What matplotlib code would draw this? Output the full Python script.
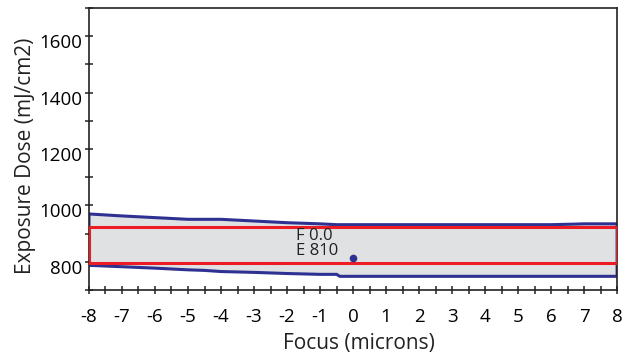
import matplotlib.pyplot as plt
import matplotlib.transforms as mtransforms
from matplotlib.patches import Rectangle
from matplotlib.ticker import MultipleLocator

plt.rcParams['font.family'] = ['Open Sans', 'DejaVu Sans']
plt.rcParams['axes.unicode_minus'] = False

# process window outline (upper / lower edge)
upper_x = [-8, -7, -6, -5, -4, -3, -2, -1, -0.5, 0, 2, 4, 6, 6.7, 7, 8]
upper_y = [970, 963, 957, 951, 951, 945, 939, 935, 932, 932, 932, 932, 932, 934, 935, 935]
lower_x = [-8, -7, -6, -5, -4.5, -4, -3, -2, -1, -0.5, -0.4, 2, 4, 6, 8]
lower_y = [788, 783, 778, 772, 770, 766, 763, 759, 756, 756, 749, 749, 749, 749, 749]

# selected rectangle (focus range, dose range)
rect_focus = [-8, 8]
rect_dose = [797, 923]

best_focus = 0.0
best_dose = 815
label_lines = ["F 0.0", "E 810"]

blue = '#2e3192'
red = '#ed1c24'
gray = '#e0e1e3'

fig = plt.figure(figsize=(6.31, 3.6), dpi=100)
ax = fig.add_axes([0.141, 0.194, 0.837, 0.784])

poly_x = upper_x + lower_x[::-1]
poly_y = upper_y + lower_y[::-1]
ax.fill(poly_x, poly_y, facecolor=gray, edgecolor=blue, linewidth=2.2, zorder=2)

ax.add_patch(Rectangle((rect_focus[0], rect_dose[0]), rect_focus[1] - rect_focus[0],
                       rect_dose[1] - rect_dose[0], fill=False, edgecolor=red,
                       linewidth=2.2, zorder=3))

ax.plot([best_focus], [best_dose], 'o', color=blue, markersize=4.5, zorder=4)
ax.text(-1.72, 893, label_lines[0], fontsize=12, va='center', ha='left', color='#222222', zorder=5)
ax.text(-1.72, 839, label_lines[1], fontsize=12, va='center', ha='left', color='#222222', zorder=5)

ax.set_xlim(-8, 8)
ax.set_ylim(700, 1700)
ax.xaxis.set_major_locator(MultipleLocator(1))
ax.xaxis.set_minor_locator(MultipleLocator(0.5))
ax.yaxis.set_major_locator(MultipleLocator(200))
ax.yaxis.set_minor_locator(MultipleLocator(100))
ax.set_yticks([800, 1000, 1200, 1400, 1600])
ax.tick_params(axis='both', which='both', direction='inout', length=6, width=1.1, color='#222222')
ax.tick_params(axis='x', which='major', pad=10, labelsize=13.5)
ax.tick_params(axis='y', which='major', pad=2, labelsize=13.5)
for s in ax.spines.values():
    s.set_linewidth(1.2)
    s.set_color('#222222')

# y tick labels sit a bit below their ticks
offset = mtransforms.ScaledTranslation(0, -5 / 100, fig.dpi_scale_trans)
for lab in ax.get_yticklabels():
    lab.set_transform(lab.get_transform() + offset)

ax.set_xlabel("Focus (microns)", fontsize=15, color='#222222')
ax.set_ylabel("Exposure Dose (mJ/cm2)", fontsize=15, color='#222222')
ax.xaxis.set_label_coords(0.511, -0.188)
ax.yaxis.set_label_coords(-0.121, 0.475)
ax.xaxis.label.set_va('center')
ax.yaxis.label.set_va('center')

fig.savefig("out.png", dpi=100)
